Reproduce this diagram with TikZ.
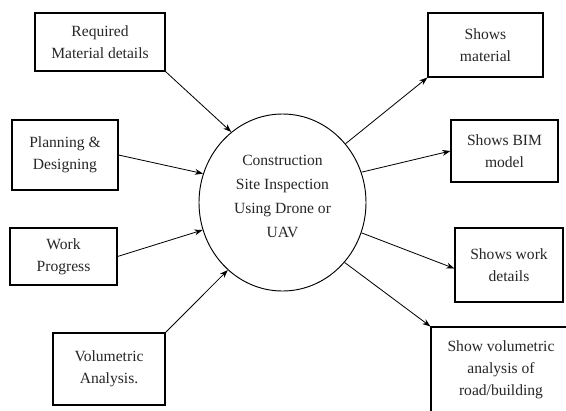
\documentclass[tikz,border=0pt]{standalone}
\usepackage{fontspec}
\setmainfont{Liberation Serif}
\usepackage{tikz}
\usetikzlibrary{arrows.meta}
\usetikzlibrary{shapes.geometric}
\usetikzlibrary{shadows}
\usetikzlibrary{positioning}

\begin{document}
\begin{tikzpicture}[x=0.03cm,y=-0.03cm,
    box/.style={draw,line width=0.9pt,fill=white,align=center,inner sep=2pt,
        font=\fontsize{13.3}{19}\selectfont,text=black!85,
        drop shadow={shadow xshift=1.2pt,shadow yshift=-1.2pt,fill=black!40,opacity=0.6}},
    arr/.style={-{Stealth[length=7pt,width=5pt]},line width=0.7pt}]
    \clip (0,0) rectangle (566,410);
    \node(c)[draw,ellipse,line width=0.8pt,inner sep=0,minimum width=5.01cm,minimum height=5.31cm] at (282.5,202.5) {};
    \node(ct)[align=center,text=black!85,font=\fontsize{13.3}{20.5}\selectfont] at (282.5,196) {Construction\\Site Inspection\\Using Drone or\\UAV};

    \node(req)[box,minimum width=3.9cm,minimum height=1.74cm] at (100,42) {Required\\Material details};
    \node(plan)[box,minimum width=3.18cm,minimum height=2.1cm] at (65,155) {Planning \&\\Designing};
    \node(work)[box,minimum width=3.21cm,minimum height=1.71cm] at (63.5,256.5) {Work\\Progress};
    \node(vol)[box,minimum width=3.36cm,minimum height=2.16cm] at (109,369) {Volumetric\\Analysis.};

    \node(mat)[box,minimum width=3.45cm,minimum height=1.92cm] at (485.5,45) {Shows\\material};
    \node(bim)[box,minimum width=3.21cm,minimum height=1.86cm] at (504.5,151) {Shows BIM\\model};
    \node(det)[box,minimum width=3.24cm,minimum height=2.22cm] at (509,265) {Shows work\\details};
    \node(ana)[box,minimum width=4.2cm,minimum height=2.58cm] at (501,370) {Show volumetric\\analysis of\\road/building};

    \draw[arr] (req.south east)--(c.126);
    \draw[arr] (plan.east)--(c.160);
    \draw[arr] (work.east)--(c.199);
    \draw[arr] (vol.north east)--(c.231);

    \draw[arr] (c.43)--(mat.south west);
    \draw[arr] (c.21)--(bim.west);
    \draw[arr] (c.339)--([yshift=-3pt]det.west);
    \draw[arr] (c.316)--(ana.north west);
\end{tikzpicture}
\end{document}
